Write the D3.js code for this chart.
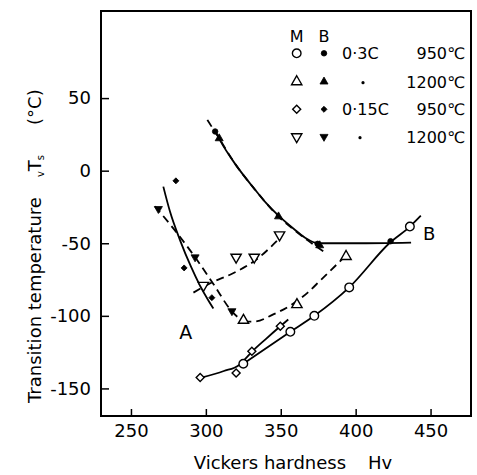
<!DOCTYPE html>
<html><head><meta charset="utf-8">
<script src="https://cdn.jsdelivr.net/npm/d3@7"></script>
<style>body{margin:0;background:#fff}svg{display:block}</style>
</head><body>
<svg id="c" width="477" height="475"></svg>
<script>
// ---- tick labels ----
const xTicks = [250, 300, 350, 400, 450];
const yTicks = [50, 0, -50, -100, -150];
const yTickLabels = ["50", "0", "-50", "-100", "-150"];

// ---- measured points (Hv, transition temperature °C) ----
// M = martensite (open), B = bainite (filled)
const m03_950   = [[325, -133], [356.4, -111], [372.4, -100], [395.7, -80.4], [436.2, -38.5]];   // ○
const b03_950   = [[306.2, 27], [374.6, -50.4], [423.3, -48.6]];                                  // ●
const m03_1200  = [[325.1, -103.1], [360.8, -92.3], [393.6, -59.1]];                              // △
const b03_1200  = [[308.9, 22.2], [348.5, -31.6], [376, -51.5]];                                  // ▲
const m015_950  = [[296.2, -142.5], [320.2, -139.3], [330.7, -124.4], [349.7, -107.2]];           // ◇
const b015_950  = [[280, -7], [285.5, -67], [304, -87.5]];                                        // ◆
const m015_1200 = [[298.4, -79], [320.2, -59.6], [332.3, -59.6], [349.2, -44.2]];                 // ▽
const b015_1200 = [[268.3, -26.3], [292.8, -59.6], [317.4, -96.7]];                               // ▼

// ---- drawn curves ----
const curveUpperSolid  = [[307, 26], [310, 20], [320, 4], [332, -12], [340, -22], [348.5, -31], [358.6, -40], [366, -46], [375, -50], [400, -50], [437, -49.5]];
const curveUpperDashed = [[301, 35], [309, 22], [320, 4], [332, -12], [340, -22], [348.5, -31.6], [358.6, -40.5], [368, -48], [379, -56]];
const curveLeftSolid   = [[271.6, -11], [276, -28], [282.8, -48], [290, -66], [296, -79], [302, -90], [305, -95]];
const curveLeftDashed  = [[266, -24.5], [280, -42], [292.8, -59.6], [305, -78], [317, -96.5], [325, -104]];
const curveTriM        = [[325, -104], [332, -104], [345, -99], [357, -92.5], [368, -84], [377, -75], [386, -66], [394, -58]];
const curveInvTriM     = [[291.7, -84], [304, -77], [318.5, -70.5], [334, -61], [349.7, -46]];
const curveDiamondM    = [[297, -142.5], [312, -138], [322, -134], [326, -130], [331, -124.5], [340, -116], [349.7, -107.2], [355, -102.5]];
const curveCircleM     = [[325, -133], [356.4, -111], [372.4, -100], [395.7, -80.4], [423, -49.5], [436.2, -38.5], [443.5, -31]];

// ---- legend text ----
const legendHead = ["M", "B"];
const legendConc = ["0·3C", "", "0·15C", ""];
const legendTemp = ["950℃", "1200℃", "950℃", "1200℃"];

// ---- scales ----
const x = d3.scaleLinear().domain([230, 477]).range([101, 471]);
const y = d3.scaleLinear().domain([-169, 110]).range([416, 11]);
const FONT = "DejaVu Sans, sans-serif";

const svg = d3.select("#c");
svg.append("rect").attr("width", 477).attr("height", 475).attr("fill", "#fff");

// axes (inward ticks)
const gx = svg.append("g").attr("transform", "translate(0,416)")
  .call(d3.axisBottom(x).tickValues(xTicks).tickSize(-7).tickPadding(8));
const gy = svg.append("g").attr("transform", "translate(101,0)")
  .call(d3.axisLeft(y).tickValues(yTicks).tickSize(-8).tickPadding(10)
        .tickFormat((d, i) => yTickLabels[i]));
[gx, gy].forEach(g => {
  g.select(".domain").remove();
  g.selectAll("line").attr("stroke", "#000").attr("stroke-width", 1.5);
  g.selectAll("text").attr("font-family", FONT).attr("font-size", 18).attr("fill", "#000");
});

// frame
svg.append("rect").attr("x", x(230)).attr("y", y(110))
  .attr("width", x(477) - x(230)).attr("height", y(-169) - y(110))
  .attr("fill", "none").attr("stroke", "#000").attr("stroke-width", 2);

// axis titles
svg.append("text").attr("x", 293).attr("y", 469).attr("text-anchor", "middle")
  .attr("font-family", FONT).attr("font-size", 18)
  .call(t => { t.append("tspan").text("Vickers hardness"); t.append("tspan").attr("dx", 22).text("Hv"); });

const yt = svg.append("text").attr("transform", "translate(41,403) rotate(-90)")
  .attr("font-family", FONT).attr("font-size", 18);
yt.append("tspan").text("Transition temperature");
yt.append("tspan").attr("dx", 20).attr("dy", 3).attr("font-size", 10).text("v");
yt.append("tspan").attr("dy", -3).text("T");
yt.append("tspan").attr("dy", 3).attr("font-size", 10).text("s");
yt.append("tspan").attr("dx", 30).attr("dy", -3).text("(°C)");

// curves
const line = d3.line().x(d => x(d[0])).y(d => y(d[1])).curve(d3.curveMonotoneX);
function drawCurve(data, dashed) {
  svg.append("path").attr("d", line(data)).attr("fill", "none")
    .attr("stroke", "#000").attr("stroke-width", 1.8)
    .attr("stroke-dasharray", dashed ? "8,5" : null);
}
drawCurve(curveUpperSolid, false);
drawCurve(curveUpperDashed, true);
drawCurve(curveLeftSolid, false);
drawCurve(curveLeftDashed, true);
drawCurve(curveTriM, true);
drawCurve(curveInvTriM, true);
drawCurve(curveDiamondM, false);
drawCurve(curveCircleM, false);

// markers
const shapes = {
  circle:  { type: d3.symbolCircle,   size: 58, rot: 0 },
  dot:     { type: d3.symbolCircle,   size: 24, rot: 0 },
  tri:     { type: d3.symbolTriangle, size: 46, rot: 0 },
  triS:    { type: d3.symbolTriangle, size: 28, rot: 0 },
  diamond: { type: d3.symbolSquare,   size: 32, rot: 45 },
  diamondS:{ type: d3.symbolSquare,   size: 18, rot: 45 },
  inv:     { type: d3.symbolTriangle, size: 46, rot: 180 },
  invS:    { type: d3.symbolTriangle, size: 28, rot: 180 }
};
function marker(g, px, py, shape, filled) {
  const s = shapes[shape];
  g.append("path").attr("d", d3.symbol().type(s.type).size(s.size)())
    .attr("transform", `translate(${px},${py}) rotate(${s.rot})`)
    .attr("fill", filled ? "#000" : "#fff").attr("stroke", "#000")
    .attr("stroke-width", filled ? 0.8 : 1.4);
}
const mk = svg.append("g");
function drawSeries(data, shape, filled) {
  data.forEach(d => marker(mk, x(d[0]), y(d[1]), shape, filled));
}
drawSeries(m03_950, "circle", false);
drawSeries(m03_1200, "tri", false);
drawSeries(m015_950, "diamond", false);
drawSeries(m015_1200, "inv", false);
drawSeries(b03_950, "dot", true);
drawSeries(b03_1200, "triS", true);
drawSeries(b015_950, "diamondS", true);
drawSeries(b015_1200, "invS", true);

// curve labels
svg.append("text").attr("x", x(286.5)).attr("y", y(-111) + 7).attr("text-anchor", "middle")
  .attr("font-family", FONT).attr("font-size", 19).text("A");
svg.append("text").attr("x", x(449)).attr("y", y(-43) + 7).attr("text-anchor", "middle")
  .attr("font-family", FONT).attr("font-size", 18).text("B");

// legend
const lg = svg.append("g").attr("font-family", FONT);
const colM = 296.7, colB = 324, rows = [53.3, 81.7, 109.3, 136.7];
lg.append("text").attr("x", colM).attr("y", 42).attr("text-anchor", "middle").attr("font-size", 16).text(legendHead[0]);
lg.append("text").attr("x", colB).attr("y", 42).attr("text-anchor", "middle").attr("font-size", 16).text(legendHead[1]);
const legOpen = ["circle", "tri", "diamond", "inv"];
const legFill = ["dot", "triS", "diamondS", "invS"];
rows.forEach((ry, i) => {
  marker(lg, colM, ry, legOpen[i], false);
  marker(lg, colB, ry, legFill[i], true);
  if (legendConc[i]) {
    lg.append("text").attr("x", 342).attr("y", ry + 6).attr("font-size", 16).text(legendConc[i]);
  } else {
    lg.append("circle").attr("cx", i === 1 ? 363 : 360).attr("cy", ry + 1).attr("r", 1.6).attr("fill", "#000");
  }
  lg.append("text").attr("x", 465).attr("y", ry + 6).attr("text-anchor", "end").attr("font-size", 16).text(legendTemp[i]);
});
</script>
</body></html>
